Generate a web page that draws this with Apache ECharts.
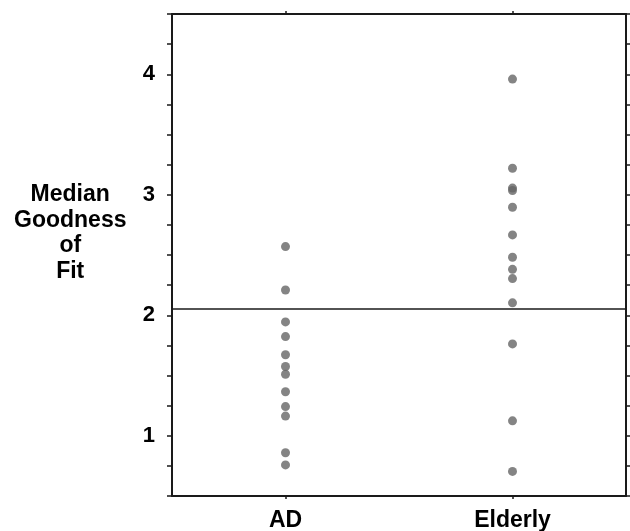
<!DOCTYPE html>
<html>
<head>
<meta charset="utf-8">
<script src="https://cdn.jsdelivr.net/npm/echarts@6/dist/echarts.min.js"></script>
<style>
html,body{margin:0;padding:0;background:#fff;}
#chart{width:630px;height:531px;}
</style>
</head>
<body>
<div id="chart"></div>
<script>
const categories = ['AD', 'Elderly'];
const adValues = [2.57, 2.21, 1.945, 1.823, 1.672, 1.575, 1.51, 1.365, 1.242, 1.163, 0.859, 0.758];
const elderlyValues = [3.96, 3.22, 3.055, 3.035, 2.896, 2.667, 2.481, 2.381, 2.304, 2.103, 1.762, 1.124, 0.704];
const referenceLine = 2.053;
const yTickLabels = ['1', '2', '3', '4'];
const yLabelText = 'Median\nGoodness\nof\nFit';

const chart = echarts.init(document.getElementById('chart'), null, {renderer: 'canvas'});
const FONT = '"Liberation Sans", Arial, Helvetica, sans-serif';
const axisLine = {show: true, onZero: false, lineStyle: {color: '#1a1a1a', width: 2}};

const yCommon = {
  type: 'value', min: 0.5, max: 4.5, interval: 0.25,
  axisLine: axisLine,
  axisTick: {show: true, length: 5, lineStyle: {color: '#1a1a1a', width: 1.5}},
  splitLine: {show: false}
};

chart.setOption({
  animation: false,
  backgroundColor: '#fff',
  grid: {left: 172, right: 4, top: 14, bottom: 35, containLabel: false, outerBoundsMode: 'none'},
  xAxis: [
    {
      type: 'category', data: categories, position: 'bottom', boundaryGap: true,
      axisLine: axisLine,
      axisTick: {show: true, alignWithLabel: true, length: 3, lineStyle: {color: '#1a1a1a', width: 1.5}},
      axisLabel: {color: '#000', fontFamily: FONT, fontWeight: 'bold', fontSize: 23, margin: 13}
    },
    {
      type: 'category', data: categories, position: 'top', boundaryGap: true,
      axisLine: axisLine,
      axisTick: {show: true, alignWithLabel: true, length: 3, lineStyle: {color: '#1a1a1a', width: 1.5}},
      axisLabel: {show: false}
    }
  ],
  yAxis: [
    Object.assign({}, yCommon, {
      position: 'left',
      axisLabel: {
        color: '#000', fontFamily: FONT, fontWeight: 'bold', fontSize: 22, margin: 17,
        formatter: function (v) {
          const s = String(v);
          return yTickLabels.indexOf(s) >= 0 ? s : '';
        }
      }
    }),
    Object.assign({}, yCommon, {
      position: 'right',
      axisLabel: {show: false}
    })
  ],
  graphic: [{
    type: 'text', left: 14, top: 182,
    style: {
      text: yLabelText, fill: '#000', font: 'bold 23px ' + FONT,
      textAlign: 'center', lineHeight: 25.5, x: 57
    }
  }],
  series: [
    {
      type: 'scatter', xAxisIndex: 0, yAxisIndex: 0,
      symbol: 'circle', symbolSize: 9,
      itemStyle: {color: '#656565'},
      data: adValues.map(v => [categories[0], v]),
      markLine: {
        silent: true, symbol: 'none', label: {show: false},
        lineStyle: {color: '#1a1a1a', width: 1.5, type: 'solid'},
        data: [{yAxis: referenceLine}]
      }
    },
    {
      type: 'scatter', xAxisIndex: 0, yAxisIndex: 0,
      symbol: 'circle', symbolSize: 9,
      itemStyle: {color: '#656565'},
      data: elderlyValues.map(v => [categories[1], v])
    }
  ]
});
</script>
</body>
</html>
